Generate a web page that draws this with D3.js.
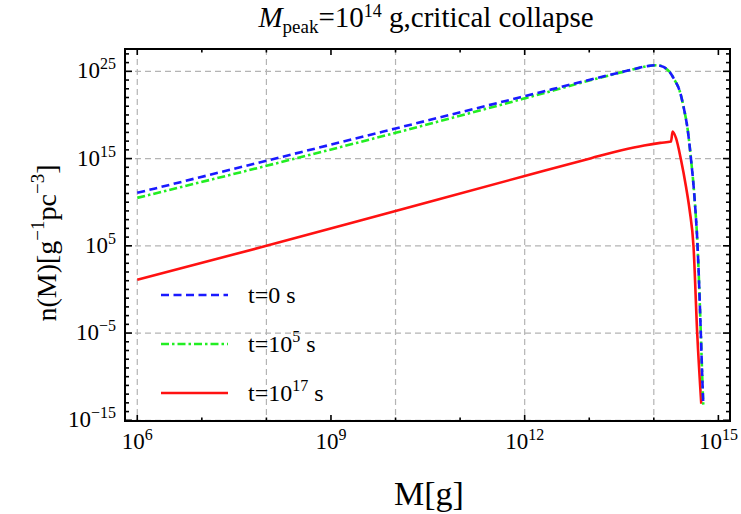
<!DOCTYPE html>
<html>
<head>
<meta charset="utf-8">
<script src="https://cdn.jsdelivr.net/npm/d3@7"></script>
<style>
  html, body { margin: 0; padding: 0; background: #fff; }
  svg { display: block; }
  text { font-family: "Liberation Serif", "Times New Roman", serif; fill: #000; }
</style>
</head>
<body>
<svg id="chart" width="741" height="514"></svg>
<script>
// Mass function n(M) for M_peak = 1e14 g (critical collapse), at three times.
// Values are log10(M / g) and log10(n / g^-1 pc^-3).
const logMassT0 = [6, 8, 10, 12, 13.2, 13.47, 13.72, 13.9, 14.05, 14.15, 14.24, 14.32, 14.395, 14.47, 14.525, 14.577, 14.627, 14.678, 14.728, 14.75, 14.766];
const logNT0    = [11.07, 14.75, 18.45, 22.15, 24.38, 24.86, 25.3, 25.6, 25.7, 25.5, 24.98, 24.03, 22.88, 20.6, 18.3, 14.86, 10.85, 4.9, -5.0, -10.0, -13.2];

const logMassT5 = [6, 8, 10, 12, 13.2, 13.47, 13.72, 13.9, 14.05, 14.15, 14.24, 14.32, 14.395, 14.47, 14.525, 14.577, 14.627, 14.678, 14.728, 14.75, 14.766];
const logNT5    = [10.5, 14.17, 17.95, 21.9, 24.33, 24.84, 25.3, 25.6, 25.7, 25.5, 24.98, 24.03, 22.88, 20.6, 18.3, 14.86, 10.85, 4.9, -5.0, -10.0, -13.2];

const logMassT17 = [6, 8, 10, 12, 13.03, 13.5, 13.85, 14.1, 14.266, 14.291, 14.344, 14.421, 14.498, 14.554, 14.615, 14.672, 14.735];
const logNT17    = [1.1, 5.0, 9.0, 13.0, 15.05, 15.95, 16.5, 16.8, 16.95, 18.1, 17.34, 14.86, 11.8, 9.13, 4.92, -5.0, -13.1];

const seriesNames = ["t=0 s", "t=10^5 s", "t=10^17 s"];

const xTickExps = [6, 9, 12, 15];
const yTickExps = [-15, -5, 5, 15, 25];
const xGridExps = [6, 8, 10, 12, 14];
const yGridExps = [-15, -5, 5, 15, 25];

const svg = d3.select("#chart");
const plot = { left: 125, right: 730, top: 49, bottom: 421 };

const x = d3.scaleLog().domain([Math.pow(10, 5.81), Math.pow(10, 15.18)]).range([plot.left, plot.right]);
const y = d3.scaleLog().domain([Math.pow(10, -15.08), Math.pow(10, 27.56)]).range([plot.bottom, plot.top]);

const toPoints = (lm, ln) => lm.map((m, i) => ({ M: Math.pow(10, m), n: Math.pow(10, ln[i]) }));

const series = [
  { name: seriesNames[0], pts: toPoints(logMassT0, logNT0), color: "#1a1aff", dash: "8,4.5", width: 2.6 },
  { name: seriesNames[1], pts: toPoints(logMassT5, logNT5), color: "#22ee22", dash: "8,3,2.5,3", width: 2.6 },
  { name: seriesNames[2], pts: toPoints(logMassT17, logNT17), color: "#ff1111", dash: null, width: 2.6 }
];

// grid
const grid = svg.append("g").attr("stroke", "#b4b4b4").attr("stroke-width", 1.2).attr("stroke-dasharray", "6,4");
xGridExps.forEach(e => {
  const gx = x(Math.pow(10, e));
  grid.append("line").attr("x1", gx).attr("x2", gx).attr("y1", plot.top).attr("y2", plot.bottom);
});
yGridExps.forEach(e => {
  const gy = y(Math.pow(10, e));
  grid.append("line").attr("x1", plot.left).attr("x2", plot.right).attr("y1", gy).attr("y2", gy);
});

// curves
svg.append("clipPath").attr("id", "plotclip").append("rect")
  .attr("x", plot.left).attr("y", plot.top).attr("width", plot.right - plot.left).attr("height", plot.bottom - plot.top);

const line = d3.line().x(d => x(d.M)).y(d => y(d.n)).curve(d3.curveMonotoneX);
const curves = svg.append("g").attr("clip-path", "url(#plotclip)");
// red first, then green, then blue on top
[series[2], series[1], series[0]].forEach(s => {
  curves.append("path")
    .datum(s.pts)
    .attr("d", line)
    .attr("fill", "none")
    .attr("stroke", s.color)
    .attr("stroke-width", s.width)
    .attr("stroke-dasharray", s.dash)
    .attr("stroke-linejoin", "round");
});

// ticks on all four sides, pointing inward
const ticks = svg.append("g").attr("stroke", "#000").attr("stroke-width", 1.6);
d3.range(6, 16).forEach(e => {
  const tx = x(Math.pow(10, e));
  const len = (e % 3 === 0) ? 6 : 3.5;
  ticks.append("line").attr("x1", tx).attr("x2", tx).attr("y1", plot.bottom).attr("y2", plot.bottom - len);
  ticks.append("line").attr("x1", tx).attr("x2", tx).attr("y1", plot.top).attr("y2", plot.top + len);
});
d3.range(-15, 28).forEach(e => {
  const ty = y(Math.pow(10, e));
  const len = ((e + 15) % 10 === 0) ? 7 : 4;
  ticks.append("line").attr("x1", plot.left).attr("x2", plot.left + len).attr("y1", ty).attr("y2", ty);
  ticks.append("line").attr("x1", plot.right).attr("x2", plot.right - len).attr("y1", ty).attr("y2", ty);
});

// frame
svg.append("rect")
  .attr("x", plot.left).attr("y", plot.top)
  .attr("width", plot.right - plot.left).attr("height", plot.bottom - plot.top)
  .attr("fill", "none").attr("stroke", "#000").attr("stroke-width", 2);

// power-of-ten label helper
function powLabel(sel, exp, baseSize, supSize, supDy) {
  sel.append("tspan").text("10").attr("font-size", baseSize);
  sel.append("tspan").text(String(exp).replace("-", "\u2212")).attr("font-size", supSize).attr("dy", -supDy);
}

xTickExps.forEach(e => {
  const t = svg.append("text").attr("x", x(Math.pow(10, e))).attr("y", 449).attr("text-anchor", "middle");
  powLabel(t, e, 23, 16, 9);
});
yTickExps.forEach(e => {
  const t = svg.append("text").attr("x", plot.left - 9).attr("y", y(Math.pow(10, e)) + 7).attr("text-anchor", "end");
  powLabel(t, e, 23, 16, 9);
});

// axis titles
svg.append("text").attr("x", 429).attr("y", 505)
  .attr("text-anchor", "middle").attr("font-size", 34).text("M[g]");

const yt = svg.append("text").attr("transform", "translate(56,243) rotate(-90)")
  .attr("text-anchor", "middle").attr("font-size", 28);
yt.append("tspan").text("n(M)[g");
yt.append("tspan").text("\u22121").attr("font-size", 19).attr("dy", -12);
yt.append("tspan").text("pc").attr("dy", 12);
yt.append("tspan").text("\u22123").attr("font-size", 19).attr("dy", -12);
yt.append("tspan").text("]").attr("dy", 12);

// title
const title = svg.append("text").attr("x", 426).attr("y", 27)
  .attr("text-anchor", "middle").attr("font-size", 29);
title.append("tspan").text("M").attr("font-style", "italic");
title.append("tspan").text("peak").attr("font-size", 19).attr("dy", 6);
title.append("tspan").text("=10").attr("dy", -6);
title.append("tspan").text("14").attr("font-size", 18).attr("dy", -10);
title.append("tspan").text(" g,critical collapse").attr("dy", 10);

// legend
const legendRows = [295, 344, 393];
const legend = svg.append("g");
series.forEach((s, i) => {
  const ly = legendRows[i];
  legend.append("line").attr("x1", 161).attr("x2", 228).attr("y1", ly).attr("y2", ly)
    .attr("stroke", s.color).attr("stroke-width", s.width).attr("stroke-dasharray", s.dash);
  const t = legend.append("text").attr("x", 248).attr("y", ly + 8).attr("font-size", 24);
  const parts = s.name.split("^");
  if (parts.length === 1) {
    t.text(s.name);
  } else {
    const [base, rest] = parts;
    const [sup, unit] = rest.split(" ");
    t.append("tspan").text(base);
    t.append("tspan").text(sup).attr("font-size", 16).attr("dy", -10);
    t.append("tspan").text(" " + unit).attr("dy", 10);
  }
});
</script>
</body>
</html>
